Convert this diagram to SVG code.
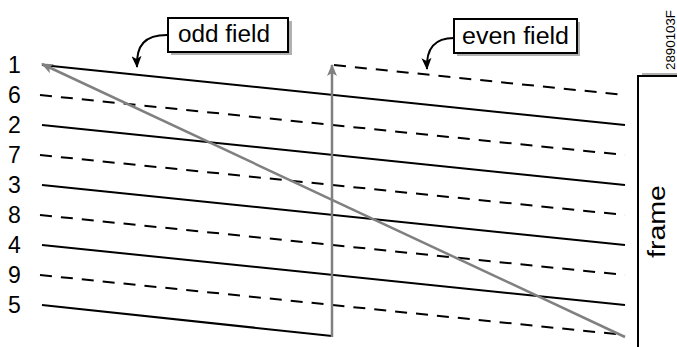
<svg xmlns="http://www.w3.org/2000/svg" width="677" height="347" viewBox="0 0 677 347">
<defs>
<marker id="ga" markerWidth="12" markerHeight="10" refX="11" refY="5" orient="auto" markerUnits="userSpaceOnUse"><path d="M0,0 L12,5 L0,10 L3,5 Z" fill="#808080"/></marker>
<marker id="ba" markerWidth="12" markerHeight="10" refX="11" refY="5" orient="auto" markerUnits="userSpaceOnUse"><path d="M0,0 L12,5 L0,10 L3,5 Z" fill="#000"/></marker>
</defs>
<style>
.num{font-family:"Liberation Sans",Arial,sans-serif;font-size:23px;fill:#000}
.lbl{font-family:"Liberation Sans",Arial,sans-serif;font-size:23px;fill:#000}
.s{stroke:#000;stroke-width:2;fill:none}
.d{stroke:#000;stroke-width:2;fill:none;stroke-dasharray:12,9}
.g{stroke:#808080;stroke-width:2.5;fill:none}
.box{fill:#fff;stroke:#000;stroke-width:2}
.sh{fill:#b0b0b0}
</style>
<g id="numbers">
<text class="num" x="8" y="73">1</text>
<text class="num" x="8" y="103">6</text>
<text class="num" x="8" y="133">2</text>
<text class="num" x="8" y="163">7</text>
<text class="num" x="8" y="193">3</text>
<text class="num" x="8" y="223">8</text>
<text class="num" x="8" y="253">4</text>
<text class="num" x="8" y="283">9</text>
<text class="num" x="8" y="313">5</text>
</g>
<g id="connectors">
<line class="s" x1="42" y1="65" x2="625" y2="125"/>
<line class="s" x1="42" y1="125" x2="625" y2="185"/>
<line class="s" x1="42" y1="185" x2="625" y2="245"/>
<line class="s" x1="42" y1="245" x2="625" y2="305"/>
<line class="s" x1="42" y1="305" x2="332" y2="336"/>
<line class="d" x1="40" y1="95" x2="625" y2="155"/>
<line class="d" x1="40" y1="155" x2="625" y2="215"/>
<line class="d" x1="40" y1="215" x2="625" y2="275"/>
<line class="d" x1="40" y1="275" x2="625" y2="335"/>
<line class="d" x1="334" y1="65" x2="625" y2="95"/>
<line class="g" x1="332" y1="337" x2="332" y2="65" marker-end="url(#ga)"/>
<line class="g" x1="625" y1="337" x2="42" y2="64" marker-end="url(#ga)"/>
<path class="s" d="M167,35 C145,35 136,45 137,67" marker-end="url(#ba)"/>
<path class="s" d="M454,38 C435,38 426,48 427,69" marker-end="url(#ba)"/>
</g>
<g id="odd-field">
<rect class="sh" x="171" y="21" width="121" height="34"/>
<rect class="box" x="168" y="18" width="120" height="34"/>
<text class="lbl" x="178" y="42" textLength="92" lengthAdjust="spacingAndGlyphs">odd field</text>
</g>
<g id="even-field">
<rect class="sh" x="457" y="22" width="123" height="34"/>
<rect class="box" x="454" y="19" width="123" height="34"/>
<text class="lbl" x="462" y="44" textLength="107" lengthAdjust="spacingAndGlyphs">even field</text>
</g>
<g id="frame">
<rect class="sh" x="642" y="73" width="40" height="280"/>
<rect class="box" x="638" y="76" width="44" height="280"/>
<text class="lbl" transform="translate(665,258) rotate(-90)" textLength="73" lengthAdjust="spacingAndGlyphs">frame</text>
</g>
<text transform="translate(675,70) rotate(-90)" font-family="Liberation Sans,Arial,sans-serif" font-size="12" textLength="60" lengthAdjust="spacingAndGlyphs">2890103F</text>
</svg>
